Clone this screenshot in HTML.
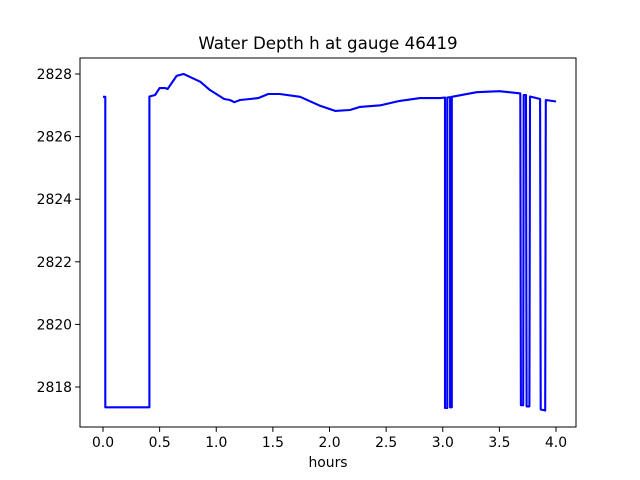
<!DOCTYPE html>
<html><head><meta charset="utf-8"><style>
body{margin:0;background:#fff}
svg{display:block;font-family:"DejaVu Sans","Liberation Sans",sans-serif}
</style></head><body>
<svg id="chart" width="640" height="480"></svg>
<script>
const times=[0,0.02,0.02,0.41,0.41,0.46,0.5,0.55,0.57,0.65,0.71,0.73,0.77,0.86,0.94,1.0,1.07,1.12,1.16,1.21,1.3,1.37,1.46,1.56,1.74,1.92,2.05,2.18,2.27,2.45,2.62,2.8,2.98,3.02,3.02,3.04,3.04,3.065,3.065,3.08,3.08,3.3,3.5,3.685,3.69,3.71,3.715,3.735,3.74,3.765,3.77,3.86,3.865,3.905,3.91,4.0];
const depths=[2827.27,2827.27,2817.35,2817.35,2827.28,2827.33,2827.55,2827.55,2827.52,2827.94,2828.0,2827.97,2827.9,2827.75,2827.5,2827.36,2827.2,2827.17,2827.1,2827.17,2827.2,2827.23,2827.36,2827.36,2827.27,2826.98,2826.82,2826.85,2826.95,2827.0,2827.14,2827.23,2827.23,2827.25,2817.33,2817.33,2827.25,2827.26,2817.35,2817.35,2827.27,2827.42,2827.45,2827.38,2817.42,2817.42,2827.33,2827.33,2817.38,2817.38,2827.28,2827.2,2817.28,2817.25,2827.17,2827.12];
const xTicks=[0,0.5,1,1.5,2,2.5,3,3.5,4];
const xTickLabels=["0.0","0.5","1.0","1.5","2.0","2.5","3.0","3.5","4.0"];
const yTicks=[2818,2820,2822,2824,2826,2828];
const NS="http://www.w3.org/2000/svg";
const svg=document.getElementById('chart');
const L=80,R=576,T=58,B=427;
const xs=t=>103+(t/4)*(556-103);
const ys=v=>387-(v-2818)/10*(387-74);
function mk(tag,attrs,parent){const e=document.createElementNS(NS,tag);for(const k in attrs)e.setAttribute(k,attrs[k]);(parent||svg).appendChild(e);return e;}
let pts=times.map((t,i)=>xs(t).toFixed(1)+','+ys(depths[i]).toFixed(1)).join(' ');
const line=mk('polyline',{points:pts,fill:'none',stroke:'#0000ff','stroke-width':2.1,'stroke-linejoin':'round'});


const frame=mk('rect',{x:L,y:T,width:R-L,height:B-T,fill:'none',stroke:'#000','stroke-width':1});


xTicks.forEach((t,i)=>{const x=xs(t);
 mk('line',{x1:x,x2:x,y1:B,y2:B+4.9,stroke:'#000','stroke-width':1});
 const tx=mk('text',{x:x,y:B+20,'text-anchor':'middle','font-size':13.9});tx.textContent=xTickLabels[i];
 
 
});
yTicks.forEach(v=>{const y=ys(v);
 mk('line',{x1:L-4.9,x2:L,y1:y,y2:y,stroke:'#000','stroke-width':1});
 const tx=mk('text',{x:L-8,y:y+5,'text-anchor':'end','font-size':13.9});tx.textContent=v;
 
 
});
const xt=mk('text',{x:(L+R)/2,y:467,'text-anchor':'middle','font-size':13.9});xt.textContent='hours';


const ti=mk('text',{x:(L+R)/2,y:49,'text-anchor':'middle','font-size':16.7});ti.textContent='Water Depth h at gauge 46419';


</script>
</body></html>
